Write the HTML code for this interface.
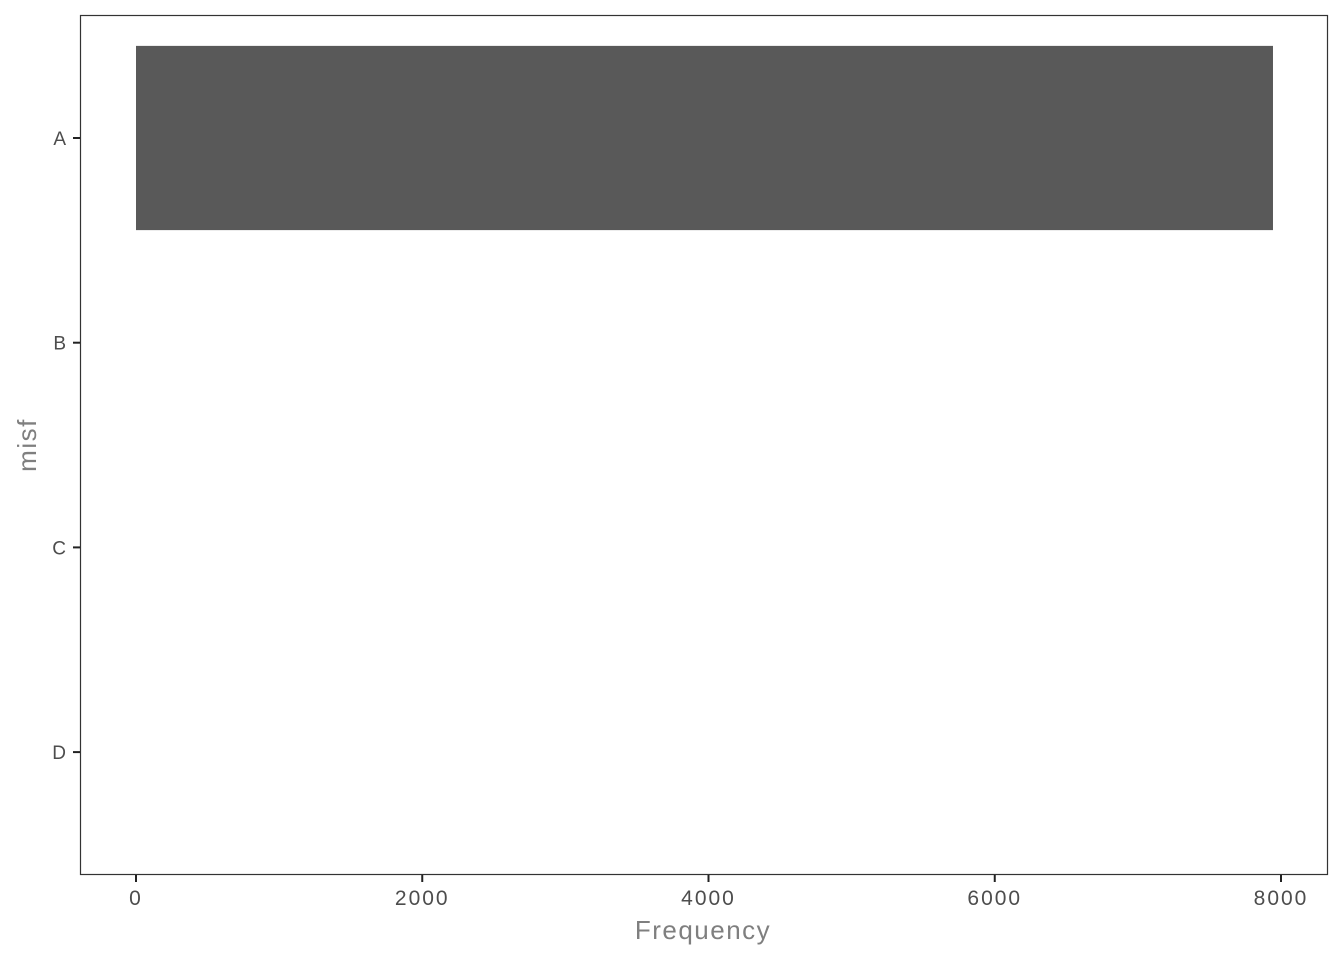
<!DOCTYPE html>
<html><head><meta charset="utf-8"><style>
body{margin:0;background:#fff;}
svg{display:block;font-family:"Liberation Sans",sans-serif;}
</style></head><body>
<svg id="chart" width="1344" height="960">
<rect x="80.5" y="15.5" width="1247" height="859" fill="#fff" stroke="#333" stroke-width="1.2"/>
<g id="bars"></g><g id="yaxis"></g><g id="xaxis"></g>
<text x="703" y="939" text-anchor="middle" font-size="26" letter-spacing="1.5" fill="#7f7f7f">Frequency</text>
<text transform="translate(36,445) rotate(-90)" text-anchor="middle" font-size="26" letter-spacing="1.5" fill="#7f7f7f">misf</text>
</svg>
<script>
const categories=["A","B","C","D"];
const values=[7944,0,0,0];
const xTicks=[0,2000,4000,6000,8000];
const NS="http://www.w3.org/2000/svg";
function x(v){return 136+v*(1281-136)/8000;}
function y(i){return 138+i*204.7;}
const band=204.7*0.9;
function mk(t,a,p){const e=document.createElementNS(NS,t);for(const k in a)e.setAttribute(k,a[k]);document.getElementById(p).appendChild(e);return e;}
categories.forEach((c,i)=>{
  if(values[i]>0){
    const r=mk("rect",{x:x(0),y:y(i)-band/2,width:x(values[i])-x(0),height:band,fill:"#595959"},"bars");
    
    
  }
  const tk=mk("line",{x1:73,x2:80,y1:y(i),y2:y(i),stroke:"#222","stroke-width":2},"yaxis");
  
  
  const t=mk("text",{x:66,y:y(i)+7,"text-anchor":"end","font-size":19,fill:"#4d4d4d"},"yaxis");
  t.textContent=c;
  
  
});
xTicks.forEach(v=>{
  const tk=mk("line",{x1:x(v),x2:x(v),y1:875,y2:882,stroke:"#222","stroke-width":2},"xaxis");
  
  
  const t=mk("text",{x:x(v),y:905,"text-anchor":"middle","font-size":21,"letter-spacing":"2",fill:"#4d4d4d"},"xaxis");
  t.textContent=v;
  
  
});
</script>
</body></html>
